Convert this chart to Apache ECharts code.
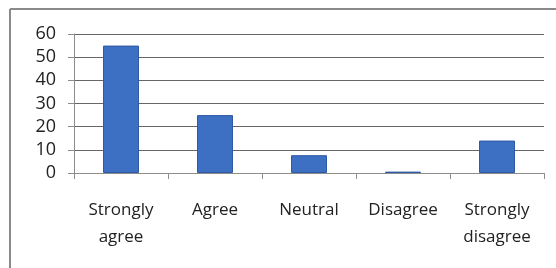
<!DOCTYPE html>
<html>
<head>
<meta charset="utf-8">
<script src="https://cdn.jsdelivr.net/npm/echarts@6/dist/echarts.min.js"></script>
<style>
  html, body { margin: 0; padding: 0; background: #fff; }
  #chart { width: 556px; height: 268px; }
</style>
</head>
<body>
<div id="chart"></div>
<script>
// categories and responses
var categories = ['Strongly\nagree', 'Agree', 'Neutral', 'Disagree', 'Strongly\ndisagree'];
var responses = [55, 25, 7.7, 0.6, 14];
var yTicks = [0, 10, 20, 30, 40, 50, 60];

var chart = echarts.init(document.getElementById('chart'));
var labelFont = 'Open Sans, Liberation Sans, sans-serif';

var option = {
    animation: false,
    backgroundColor: '#fff',
    // outer frame of the pasted chart (top and left edges visible)
    graphic: [
        { type: 'line', shape: { x1: 10, y1: 9, x2: 556, y2: 9 }, style: { stroke: '#8a8a8a', lineWidth: 2 } },
        { type: 'line', shape: { x1: 10, y1: 9, x2: 10, y2: 268 }, style: { stroke: '#8a8a8a', lineWidth: 2 } }
    ],
    grid: {
        left: 74,
        right: 12,
        top: 34,
        bottom: 95
    },
    xAxis: {
        type: 'category',
        data: categories,
        axisLine: { lineStyle: { color: '#8c8c8c', width: 1 } },
        axisTick: { show: true, length: 6, inside: false, lineStyle: { color: '#8c8c8c' } },
        axisLabel: {
            color: '#222',
            fontFamily: labelFont,
            fontSize: 17,
            lineHeight: 27,
            margin: 24,
            interval: 0
        }
    },
    yAxis: {
        type: 'value',
        min: yTicks[0],
        max: yTicks[yTicks.length - 1],
        interval: 10,
        axisLine: { show: true, lineStyle: { color: '#8c8c8c' } },
        axisTick: { show: true, length: 6, lineStyle: { color: '#8c8c8c' } },
        axisLabel: {
            color: '#222',
            fontFamily: labelFont,
            fontSize: 18,
            margin: 18
        },
        splitLine: { lineStyle: { color: '#666', width: 1 } }
    },
    series: [
        {
            type: 'bar',
            data: responses,
            barWidth: 36,
            itemStyle: {
                color: '#3d6fc2',
                borderColor: '#2f5aa6',
                borderWidth: 1
            }
        }
    ]
};
chart.setOption(option);
</script>
</body>
</html>
